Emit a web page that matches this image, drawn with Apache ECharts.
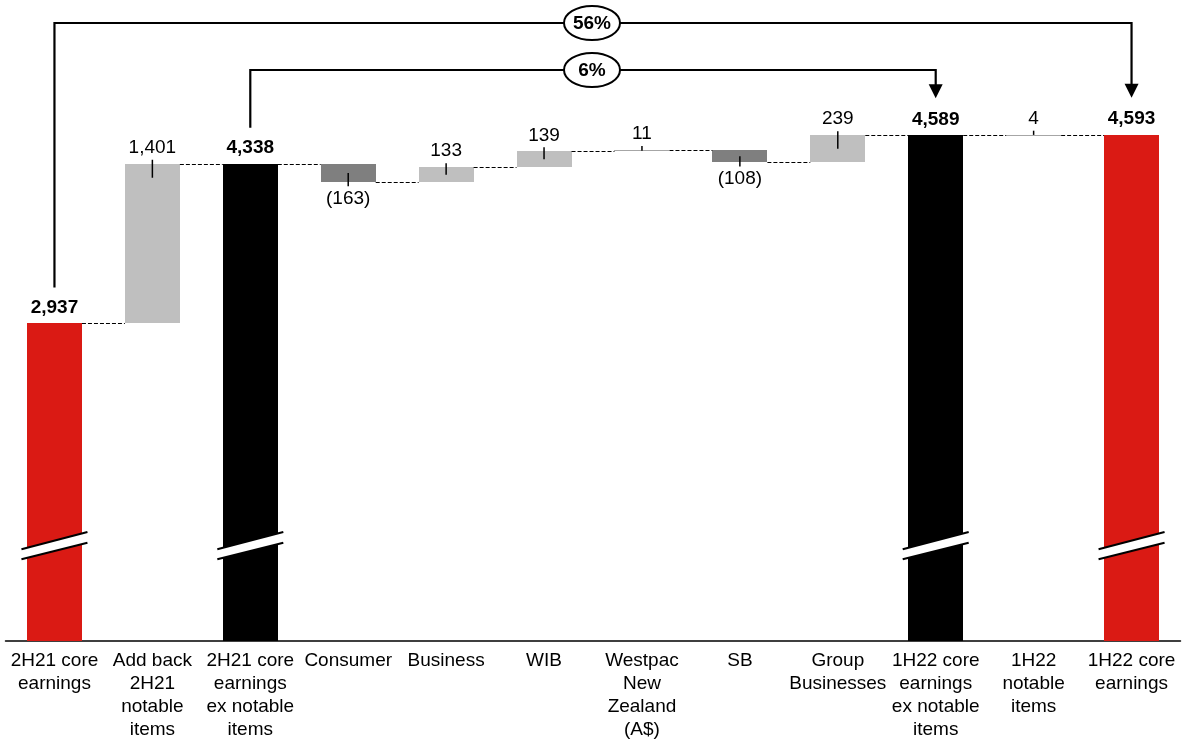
<!DOCTYPE html>
<html><head><meta charset="utf-8">
<script src="https://cdn.jsdelivr.net/npm/echarts@6/dist/echarts.min.js"></script>
<style>html,body{margin:0;padding:0;background:#fff}#c{width:1184px;height:743px}</style>
</head><body><div id="c"></div>
<script>
// ---------- data ----------
const categories = [
  '2H21 core\nearnings',
  'Add back\n2H21\nnotable\nitems',
  '2H21 core\nearnings\nex notable\nitems',
  'Consumer',
  'Business',
  'WIB',
  'Westpac\nNew\nZealand\n(A$)',
  'SB',
  'Group\nBusinesses',
  '1H22 core\nearnings\nex notable\nitems',
  '1H22\nnotable\nitems',
  '1H22 core\nearnings'
];
const values = [2937, 1401, 4338, -163, 133, 139, 11, -108, 239, 4589, 4, 4593];
const isTotal = [true, false, true, false, false, false, false, false, false, true, false, true];
const valueLabels = ['2,937', '1,401', '4,338', '(163)', '133', '139', '11', '(108)', '239', '4,589', '4', '4,593'];
const brackets = [[0, 11], [2, 9]];
const bracketLabels = ['56%', '6%'];
const axisMin = 154, axisMax = 5424;
const breakValue = 985;

// ---------- styles ----------
const totalColor = {0: '#DA1A14', 2: '#000000', 9: '#000000', 11: '#DA1A14'};
const posColor = '#BFBFBF', negColor = '#7F7F7F';
const FONT = '"Liberation Sans", Arial, sans-serif';
const BAR_W = 55;

// ---------- derived ----------
const starts = [], ends = [];
let run = 0;
values.forEach((v, i) => {
  if (isTotal[i]) { starts.push(axisMin); ends.push(v); run = v; }
  else { starts.push(run); ends.push(run + v); run += v; }
});
const mainData = values.map((v, i) => [i, starts[i], ends[i]]);

function txt(x, y, text, bold) {
  return {
    type: 'text', z2: 20,
    style: {
      text: text, x: x, y: y,
      align: 'center', verticalAlign: 'middle',
      textAlign: 'center', textVerticalAlign: 'middle',
      fontSize: 19, fontFamily: FONT, fontWeight: bold ? 'bold' : 'normal',
      fill: '#000'
    }
  };
}

function renderMain(params, api) {
  const i = api.value(0);
  const p0 = api.coord([i, starts[i]]);
  const p1 = api.coord([i, ends[i]]);
  const cx = p0[0];
  const yTop = Math.min(p0[1], p1[1]);
  const yBot = Math.max(p0[1], p1[1]);
  const h = yBot - yTop;
  const children = [];
  const color = isTotal[i] ? totalColor[i] : (values[i] >= 0 ? posColor : negColor);
  const rTop = Math.round(yTop), rBot = Math.max(Math.round(yBot), rTop + 1);
  const small = h < 2;
  children.push({type: 'rect', shape: {x: Math.round(cx - BAR_W / 2), y: rTop, width: BAR_W, height: rBot - rTop},
    style: {fill: small ? '#A6A6A6' : color}});

  // connector to next bar
  if (i < values.length - 1) {
    const nx = api.coord([i + 1, ends[i]]);
    const ly = Math.round(nx[1]) + 0.5;
    children.push({type: 'line', z2: 5, shape: {x1: cx + BAR_W / 2, y1: ly, x2: nx[0] - BAR_W / 2, y2: ly},
      style: {stroke: '#000', lineWidth: 1, lineDash: [4, 2]}});
  }

  if (isTotal[i]) {
    // axis break mark
    const b = api.coord([i, breakValue]);
    const by = b[1];
    const L = cx - 33, R = cx + 33;
    children.push({type: 'polygon', z2: 10, shape: {points: [[L, by + 3.5], [R, by - 13.8], [R, by - 3.1], [L, by + 13.5]]}, style: {fill: '#fff'}});
    children.push({type: 'line', z2: 11, shape: {x1: L, y1: by + 3.5, x2: R, y2: by - 13.8}, style: {stroke: '#000', lineWidth: 2}});
    children.push({type: 'line', z2: 11, shape: {x1: L, y1: by + 13.5, x2: R, y2: by - 3.1}, style: {stroke: '#000', lineWidth: 2}});
    children.push(txt(cx, yTop - 15.5, valueLabels[i], true));
  } else if (values[i] >= 0) {
    const inner = Math.min(h / 2, 14);
    children.push({type: 'line', z2: 12, shape: {x1: cx, y1: yTop - 4, x2: cx, y2: yTop + inner}, style: {stroke: '#000', lineWidth: 1.5}});
    children.push(txt(cx, yTop - 16, valueLabels[i], false));
  } else {
    const inner = Math.min(h / 2, 14);
    children.push({type: 'line', z2: 12, shape: {x1: cx, y1: yBot + 4, x2: cx, y2: yBot - inner}, style: {stroke: '#000', lineWidth: 1.5}});
    children.push(txt(cx, yBot + 16, valueLabels[i], false));
  }
  return {type: 'group', children: children};
}

function renderBracket(params, api) {
  const k = params.dataIndex;
  const from = api.value(0), to = api.value(1);
  const a = api.coord([from, ends[from]]);
  const b = api.coord([to, ends[to]]);
  const level = params.coordSys.y - 17 + k * 47;
  const yStart = a[1] - 36;
  const tip = b[1] - 37;
  const head = 14;
  const mid = (a[0] + b[0]) / 2;
  return {type: 'group', children: [
    {type: 'polyline', shape: {points: [[a[0], yStart], [a[0], level], [b[0], level], [b[0], tip - head + 1]]},
      style: {stroke: '#000', lineWidth: 2.2, fill: null}},
    {type: 'polygon', shape: {points: [[b[0] - 7, tip - head], [b[0] + 7, tip - head], [b[0], tip]]}, style: {fill: '#000'}},
    {type: 'ellipse', z2: 5, shape: {cx: mid - 1, cy: level, rx: 28, ry: 17}, style: {fill: '#fff', stroke: '#000', lineWidth: 2}},
    txt(mid - 1, level + 1, bracketLabels[k], true)
  ]};
}

const chart = echarts.init(document.getElementById('c'), null, {renderer: 'canvas'});
chart.setOption({
  animation: false,
  backgroundColor: '#fff',
  grid: {left: 5.5, right: 3.5, top: 40, bottom: 102.5, containLabel: false},
  xAxis: {
    type: 'category', data: categories,
    axisTick: {show: false},
    axisLine: {onZero: false, lineStyle: {color: '#000', width: 1.5}},
    axisLabel: {interval: 0, fontSize: 19, lineHeight: 23, color: '#000', fontFamily: FONT, margin: 9}
  },
  yAxis: {type: 'value', min: axisMin, max: axisMax, show: false, splitLine: {show: false}},
  series: [
    {type: 'custom', renderItem: renderMain, data: mainData, encode: {x: 0, y: [1, 2]}, clip: false, z: 2},
    {type: 'custom', renderItem: renderBracket, data: brackets, encode: {x: [0, 1]}, clip: false, z: 3}
  ]
});
</script></body></html>
